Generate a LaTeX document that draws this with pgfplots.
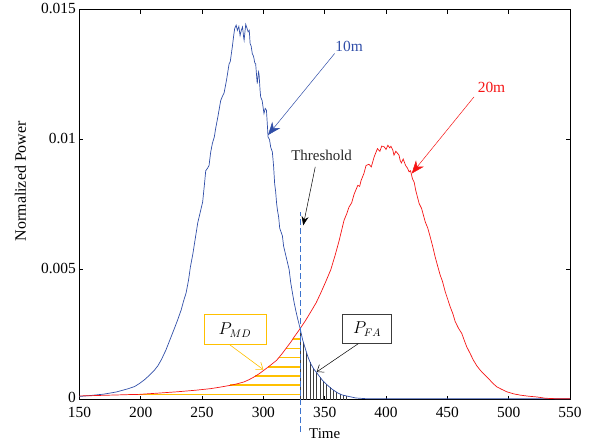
\documentclass[border=0pt]{standalone}
\usepackage{pgfplots}
\pgfplotsset{compat=1.18}
\usepackage{fontspec}
\setmainfont{Liberation Serif}
\usetikzlibrary{arrows.meta}
\definecolor{cblue}{RGB}{48,78,168}
\definecolor{cred}{RGB}{245,20,20}
\definecolor{cgold}{RGB}{255,192,0}
\definecolor{tblue}{RGB}{60,115,205}
\definecolor{cgray}{RGB}{60,60,60}

\pgfplotstableread{
x y
150 0.00012
160 0.00016
170 0.00021
180 0.00029
190 0.00042
195 0.00050
199 0.00062
203 0.00076
207 0.00093
211 0.00112
214 0.00130
217 0.00155
220.5 0.00190
224 0.00232
227 0.00268
230 0.00305
233 0.00345
235 0.00380
237 0.00410
239 0.00460
240.5 0.00510
242.5 0.00560
244.5 0.00620
246.5 0.00680
248.5 0.00720
250.5 0.00760
252 0.00830
253 0.00880
254.5 0.00890
255.7 0.00900
257 0.00950
258.4 0.00985
260 0.01010
261 0.01040
263 0.01090
265.2 0.01150
266.5 0.01165
268 0.01180
270 0.01230
272 0.01290
273 0.01300
274.7 0.01357
275.8 0.01400
276.6 0.01427
277.8 0.01440
278.8 0.01420
280 0.01435
281 0.01400
282 0.01420
283 0.01433
284 0.01390
284.3 0.01382
285.6 0.01443
286.5 0.01430
287.6 0.01414
288.5 0.01420
289.2 0.01369
290 0.01360
291 0.01330
292 0.01320
293 0.01295
293.7 0.01292
294.4 0.01250
295 0.01215
296 0.01260
296.5 0.01250
297.3 0.01190
297.8 0.01164
299 0.01150
300.5 0.01100
301.5 0.01120
302.5 0.01113
303.2 0.01060
303.8 0.01010
305 0.01000
306 0.00970
307.3 0.00953
308.3 0.00900
309.2 0.00830
310 0.00800
310.8 0.00754
311.5 0.00728
312.5 0.00700
313.3 0.00660
314 0.00650
315.5 0.00630
316.5 0.00590
318 0.00560
319.5 0.00530
321 0.00500
322.3 0.00450
323.7 0.00410
325 0.00375
326.4 0.00343
328 0.00310
330 0.00273
332 0.00230
334.6 0.00190
336.5 0.00162
338.6 0.00138
341 0.00118
344 0.00100
348 0.00075
352.3 0.00055
356 0.00040
360.4 0.00026
364 0.00018
368.6 0.00013
375.4 0.00006
385 0.00003
550 0.00003
}\blue

\pgfplotstableread{
x y
150 0.00014
160 0.00015
175 0.00017
190 0.00019
199 0.00020
215 0.00025
230 0.00030
245 0.00036
257 0.00042
265 0.00048
273.4 0.00055
279 0.00061
284.3 0.00068
288.5 0.00077
292.4 0.00087
296.5 0.00099
300.5 0.00113
305.5 0.00131
310.8 0.00151
315 0.00175
319.5 0.00203
322.5 0.00222
325 0.00240
330 0.00273
334.5 0.00305
338.6 0.00337
343 0.00372
346.8 0.00410
351 0.00455
355 0.00500
358.5 0.00555
361.7 0.00610
364 0.00655
365.8 0.00690
368 0.00715
369.8 0.00740
372 0.00757
374 0.00790
377 0.00824
378.5 0.00820
379.7 0.00843
382 0.00870
383.7 0.00900
386 0.00905
388 0.00895
390.3 0.00933
393 0.00965
395 0.00955
396.5 0.00975
398.5 0.00972
400 0.00962
401.5 0.00978
403 0.00968
404 0.00974
405.5 0.00960
406.5 0.00940
408 0.00955
410.6 0.00940
411.5 0.00920
412.5 0.00910
414 0.00925
416 0.00900
417.5 0.00890
418.8 0.00876
420 0.00880
421.5 0.00850
423 0.00835
424.2 0.00805
427 0.00754
429 0.00735
432 0.00683
434 0.00660
436 0.00626
438 0.00590
440 0.00550
442 0.00515
444.2 0.00478
446 0.00455
448.3 0.00414
450 0.00390
452.3 0.00357
454.5 0.00330
456.4 0.00300
459 0.00275
461.8 0.00254
464 0.00225
465.8 0.00203
468.5 0.00178
471.3 0.00151
474 0.00130
476.8 0.00113
480 0.00097
483.5 0.00081
487 0.00063
490.3 0.00049
494 0.00040
498.4 0.00030
504 0.00022
509.5 0.00017
516 0.00013
523 0.00010
530 0.00005
540 0.00003
550 0.00003
}\red

\pgfplotstableread{
x y
330 0.00273
332.7 0.00219
335.4 0.00178
338.1 0.00144
340.8 0.00120
343.5 0.00103
346.2 0.00086
348.9 0.00071
351.6 0.00058
354.3 0.00047
357 0.00037
359.7 0.00028
362.4 0.00022
365.1 0.00017
367.8 0.00014
}\hatch

\begin{document}
\begin{tikzpicture}
\begin{axis}[
  scale only axis, width=490.6bp, height=390bp,
  xmin=150, xmax=550, ymin=0, ymax=0.015,
  xtick={150,200,...,550},
  ytick={0,0.005,0.01,0.015},
  yticklabels={\raisebox{3bp}{0},0.005,0.01,0.015},
  scaled y ticks=false,
  tick align=inside, major tick length=4bp,
  tick style={black, line width=0.5pt},
  axis line style={black, line width=0.6pt},
  ticklabel style={font=\fontsize{15.5}{16}\selectfont},
  xticklabel style={yshift=-4bp},
  yticklabel style={yshift=1bp},
  /pgf/number format/assume math mode=true,
  xlabel={Time}, ylabel={Normalized Power},
  xlabel style={font=\fontsize{15}{16}\selectfont, at={(axis description cs:0.5,-0.0872)}, anchor=center},
  ylabel style={font=\fontsize{16}{17}\selectfont, at={(axis description cs:-0.1203,0.56)}, anchor=center},
  clip=false,
]
% P_MD hatching
\addplot[cgold, line width=1.6pt] coordinates {(190,0.00019) (330,0.00019)};
\addplot[cgold, line width=1.6pt] coordinates {(273,0.00055) (330,0.00055)};
\addplot[cgold, line width=1.6pt] coordinates {(293.5,0.00090) (330,0.00090)};
\addplot[cgold, line width=1.6pt] coordinates {(304,0.00126) (330,0.00126)};
\addplot[cgold, line width=1.6pt] coordinates {(312.5,0.00162) (330,0.00162)};
\addplot[cgold, line width=1.6pt] coordinates {(318.8,0.00196) (330,0.00196)};
\addplot[cgold, line width=1.6pt] coordinates {(323.8,0.00233) (330,0.00233)};
% P_FA hatching
\addplot[cgray, ycomb, line width=0.6pt] table[x=x,y=y] {\hatch};
% curves
\addplot[cblue, line width=0.7pt] table[x=x,y=y] {\blue};
\addplot[cred, line width=0.7pt] table[x=x,y=y] {\red};
% threshold
\addplot[tblue, dash pattern=on 6bp off 3bp, line width=0.6pt] coordinates {(330,-0.00125) (330,0.0072)};

% annotations
\draw[cblue, line width=0.5pt, -{Stealth[length=13bp,width=10bp,inset=4bp]}] (axis cs:358.1,0.01331) -- (axis cs:303.7,0.01017);
\node[cblue, font=\fontsize{15.5}{16}\selectfont] at (axis cs:369.9,0.01359) {10m};
\draw[cred, line width=0.5pt, -{Stealth[length=13bp,width=10bp,inset=4bp]}] (axis cs:471.7,0.01164) -- (axis cs:420.9,0.00869);
\node[cred, font=\fontsize{15.5}{16}\selectfont] at (axis cs:486,0.0120) {20m};
\draw[black, line width=0.5pt, -{Stealth[length=9bp,width=7bp,inset=3bp]}] (axis cs:342.3,0.00895) -- (axis cs:332.5,0.0067);
\node[black!85, font=\fontsize{15}{16}\selectfont] at (axis cs:347.5,0.0094) {Threshold};
\node[draw=cgold, line width=0.8pt, fill=white, minimum width=62bp, minimum height=30bp, inner sep=0pt, font=\fontsize{16}{17}\selectfont] at (axis cs:276.8,0.00268) {$P_{MD}$};
\draw[cgold, line width=0.6pt, -{Straight Barb[length=6bp,width=9bp]}] (axis cs:272.8,0.00210) -- (axis cs:300,0.00115);
\node[draw=cgray, line width=0.8pt, fill=white, minimum width=49bp, minimum height=29bp, inner sep=0pt, font=\fontsize{16}{17}\selectfont] at (axis cs:384.6,0.00272) {$P_{FA}$};
\draw[black, line width=0.5pt, -{Straight Barb[length=6bp,width=9bp]}] (axis cs:377.4,0.00215) -- (axis cs:343.4,0.00106);
\end{axis}
\path ([shift={(-79.4bp,-44bp)}]current axis.south west) rectangle ([shift={(27bp,6bp)}]current axis.north east);
\end{tikzpicture}
\end{document}
